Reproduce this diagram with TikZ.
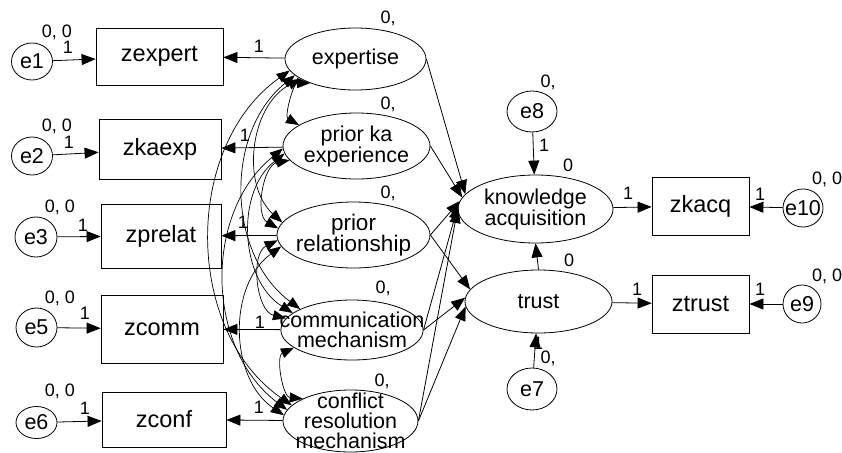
\documentclass[tikz,border=0pt]{standalone}
\usepackage{fontspec}
\setmainfont{Liberation Sans}
\usetikzlibrary{arrows.meta, positioning, shapes.geometric}

\begin{document}
\begin{tikzpicture}[
  x=1pt, y=-1pt,
  manifest/.style={rectangle, draw, line width=0.8pt, inner sep=0pt,
                   font=\fontsize{23.5}{25}\selectfont},
  latent/.style={ellipse, draw, line width=0.8pt, inner sep=-22pt,
                 align=center, font=\fontsize{21.5}{20}\selectfont},
  errvar/.style={ellipse, draw, line width=0.8pt, inner sep=-10pt,
                 font=\fontsize{21.5}{22}\selectfont},
  est/.style={inner sep=0pt, font=\fontsize{18}{19}\selectfont},
  arrow/.style={-{Triangle[length=14pt, width=11pt]}, line width=0.8pt},
  covar/.style={{Triangle[length=13pt, width=10pt]}-{Triangle[length=13pt, width=10pt]},
                line width=0.7pt}
]
  \useasboundingbox (0,0) rectangle (842,452);

  % measured variables
  \node[manifest, minimum width=127, minimum height=57] (zexpert) at (159.5,56.5) {zexpert};
  \node[manifest, minimum width=122, minimum height=60] (zkaexp) at (160,149) {zkaexp};
  \node[manifest, minimum width=120, minimum height=64] (zprelat) at (161,236) {zprelat};
  \node[manifest, minimum width=122, minimum height=68] (zcomm) at (162,329) {zcomm};
  \node[manifest, minimum width=124, minimum height=55] (zconf) at (164,419.5) {zconf};
  \node[manifest, minimum width=97, minimum height=58] (zkacq) at (700.5,206) {zkacq};
  \node[manifest, minimum width=97, minimum height=58] (ztrust) at (700.5,304) {ztrust};

  % error terms
  \node[errvar, minimum width=41, minimum height=37] (e1) at (32,61.5) {e1};
  \node[errvar, minimum width=41, minimum height=38] (e2) at (32,156) {e2};
  \node[errvar, minimum width=42, minimum height=40] (e3) at (36,237) {e3};
  \node[errvar, minimum width=41, minimum height=39] (e5) at (36.5,327.5) {e5};
  \node[errvar, minimum width=41, minimum height=32] (e6) at (36.5,422.5) {e6};
  \node[errvar, minimum width=50, minimum height=41] (e8) at (532,111.5) {e8};
  \node[errvar, minimum width=50, minimum height=42] (e7) at (532,389) {e7};
  \node[errvar, minimum width=40, minimum height=38] (e10) at (803,208) {e10};
  \node[errvar, minimum width=38, minimum height=38] (e9) at (802,304) {e9};

  % latent variables
  \node[latent, minimum width=141, minimum height=62] (expt) at (355.5,59) {expertise};
  \node[latent, minimum width=147, minimum height=66] (pka) at (356.5,146) {prior ka\\experience};
  \node[latent, minimum width=153, minimum height=66, font=\fontsize{22.5}{21}\selectfont]
       (prel) at (353.5,235) {prior\\relationship};
  \node[latent, minimum width=136, minimum height=60] (comm) at (352,330) {communication\\mechanism};
  \node[latent, minimum width=135, minimum height=62] (conf) at (350.5,421) {conflict\\resolution\\mechanism};
  \node[latent, minimum width=155, minimum height=68] (ka) at (535.5,209) {knowledge\\acquisition};
  \node[latent, minimum width=147, minimum height=63] (trust) at (538.5,301.5) {trust};

  % loadings and error paths
  \draw[arrow] (e1) -- (zexpert);
  \draw[arrow] (e2) -- (zkaexp);
  \draw[arrow] (e3) -- (zprelat);
  \draw[arrow] (e5) -- (zcomm);
  \draw[arrow] (e6) -- (zconf);
  \draw[arrow] (expt) -- (zexpert);
  \draw[arrow] (pka) -- (zkaexp);
  \draw[arrow] (prel) -- (zprelat);
  \draw[arrow] (comm) -- (zcomm);
  \draw[arrow] (conf) -- (zconf);
  \draw[arrow] (ka) -- (zkacq);
  \draw[arrow] (trust) -- (ztrust);
  \draw[arrow] (e10) -- (zkacq);
  \draw[arrow] (e9) -- (ztrust);
  \draw[arrow] (e8) -- (ka);
  \draw[arrow] (e7) -- (trust);
  \draw[arrow] (trust.north) -- (ka.south);

  % structural paths
  \draw[arrow] (expt.east) -- (ka.168);
  \draw[arrow] (pka.east) -- (ka.171);
  \draw[arrow] (prel.east) -- (ka.174);
  \draw[arrow] (prel.east) -- (trust.170);
  \draw[arrow] (comm.east) -- (ka.177);
  \draw[arrow] (comm.east) -- (trust.177);
  \draw[arrow] (conf.east) -- (ka.180);
  \draw[arrow] (conf.east) -- (trust.184);

  % covariances
  \draw[covar] (expt.208) to[bend right=75] (pka.160);
  \draw[covar] (expt.200) to[bend right=55] (prel.170);
  \draw[covar] (expt.195) to[bend right=52] (comm.158);
  \draw[covar] (expt.190) to[bend right=55] (conf.165);
  \draw[covar] (pka.192) to[bend right=70] (prel.175);
  \draw[covar] (pka.186) to[bend right=55] (comm.164);
  \draw[covar] (pka.182) to[bend right=52] (conf.170);
  \draw[covar] (prel.184) to[bend right=70] (comm.170);
  \draw[covar] (prel.189) to[bend right=55] (conf.175);
  \draw[covar] (comm.197) to[bend right=75] (conf.155);

  % estimates
  \node[est] (m-e1) at (57,32) {0, 0};
  \node[est] (m-e2) at (57,126) {0, 0};
  \node[est] (m-e3) at (60,207) {0, 0};
  \node[est] (m-e5) at (60,298) {0, 0};
  \node[est] (m-e6) at (60,391) {0, 0};
  \node[est] (w-e1) at (68,47) {1};
  \node[est] (w-e2) at (69,142) {1};
  \node[est] (w-e3) at (83,225) {1};
  \node[est] (w-e5) at (85,313) {1};
  \node[est] (w-e6) at (85,408) {1};
  \node[est] (w-expt) at (259,46) {1};
  \node[est] (w-pka) at (245,135) {1};
  \node[est] (w-prel) at (243,222) {1};
  \node[est] (w-comm) at (260,322) {1};
  \node[est] (w-conf) at (259,407) {1};
  \node[est] (m-expt) at (388,18) {0,};
  \node[est] (m-pka) at (388,104) {0,};
  \node[est] (m-prel) at (388,193) {0,};
  \node[est] (m-comm) at (383,288) {0,};
  \node[est] (m-conf) at (382,381) {0,};
  \node[est] (m-e8) at (548,82) {0,};
  \node[est] (w-e8) at (544,145) {1};
  \node[est] (i-ka) at (568,165) {0};
  \node[est] (i-trust) at (569,260) {0};
  \node[est] (w-e7) at (538,343) {1};
  \node[est] (m-e7) at (548,358) {0,};
  \node[est] (w-ka) at (628,193) {1};
  \node[est] (w-trust) at (637,289) {1};
  \node[est] (w-e10) at (760,194) {1};
  \node[est] (w-e9) at (760,289) {1};
  \node[est] (m-e10) at (827,179) {0, 0};
  \node[est] (m-e9) at (827,276) {0, 0};
\end{tikzpicture}
\end{document}
